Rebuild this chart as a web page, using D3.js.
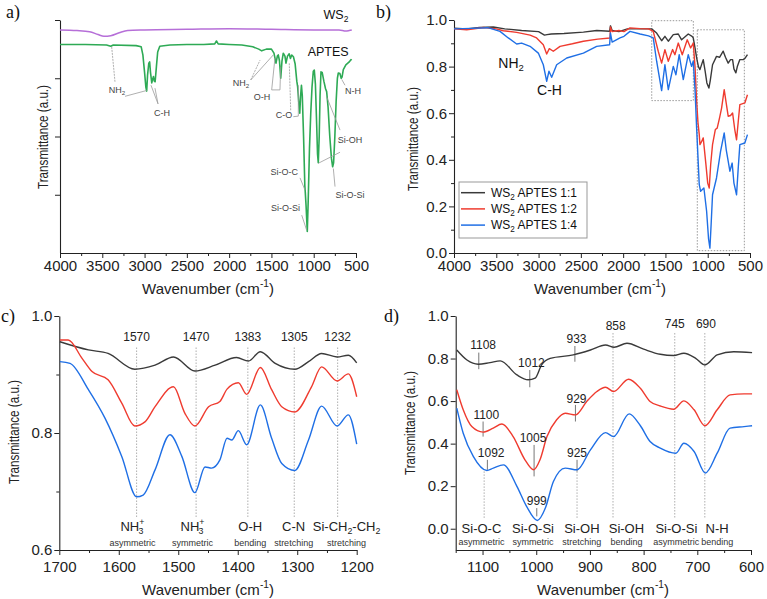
<!DOCTYPE html>
<html><head><meta charset="utf-8">
<script src="https://cdn.jsdelivr.net/npm/d3@7"></script>
<style>body{margin:0;background:#fff}text{font-family:"Liberation Sans",Arial,sans-serif}</style>
</head><body>
<script>
// ---------------- DATA ----------------
// Panel a (arbitrary transmittance units, 0..4)
const aWn_WS2  = [4000,3800,3650,3550,3480,3400,3300,3200,3000,2500,2000,1500,1000,700,620,580,550];
const aVal_WS2 = [3.83,3.82,3.80,3.75,3.72,3.73,3.78,3.82,3.83,3.84,3.85,3.84,3.83,3.83,3.81,3.82,3.83];
const aWn_APTES = [4000,3700,3450,3400,3370,3100,3040,3020,3000,2985,2975,2965,2950,2940,2930,2915,2905,2895,2885,2875,2860,2845,2820,2700,2500,2300,2170,2150,2130,2000,1850,1720,1650,1615,1560,1500,1470,1446,1430,1419,1405,1390,1375,1360,1340,1328,1310,1290,1275,1260,1240,1220,1200,1190,1175,1165,1155,1145,1135,1120,1105,1100,1090,1076,1065,1050,1035,1020,1005,993,980,965,955,946,935,925,914,900,880,860,847,830,810,790,776,765,750,735,720,709,690,675,665,650,620,580,560,550];
const aVal_APTES = [3.58,3.58,3.57,3.55,3.57,3.56,3.54,3.40,3.10,2.85,2.78,3.05,3.26,3.28,3.10,2.92,2.98,3.03,2.95,2.94,3.20,3.45,3.55,3.57,3.58,3.58,3.59,3.64,3.59,3.58,3.57,3.54,3.50,3.47,3.50,3.50,3.43,3.26,3.38,3.40,3.30,3.00,3.30,3.43,3.38,3.26,3.38,3.42,3.34,3.40,3.37,3.25,2.95,2.85,2.55,2.40,2.70,2.88,2.70,2.00,1.15,1.05,0.80,0.37,0.90,1.80,2.40,2.85,3.12,3.14,2.90,2.20,1.70,1.55,2.00,2.70,3.11,3.10,2.95,2.82,2.77,2.50,2.00,1.62,1.48,1.55,2.00,2.60,3.00,3.09,3.08,3.00,3.02,3.15,3.23,3.28,3.32,3.31];

// Panel b
const bWn_11 = [4000,3850,3700,3535,3400,3200,3000,2930,2900,2850,2700,2470,2312,2160,2150,2130,2050,1950,1800,1700,1663,1604,1545,1506,1466,1407,1348,1309,1230,1185,1171,1150,1131,1110,1092,1053,1030,1010,986,970,943,896,860,817,790,758,730,706,690,667,650,620,580,560,530];
const bVal_11 = [0.965,0.962,0.968,0.970,0.962,0.955,0.950,0.935,0.937,0.940,0.942,0.948,0.955,0.952,0.975,0.955,0.950,0.962,0.962,0.962,0.962,0.944,0.911,0.930,0.909,0.937,0.940,0.915,0.940,0.930,0.923,0.880,0.837,0.800,0.787,0.830,0.780,0.730,0.708,0.740,0.808,0.844,0.840,0.866,0.840,0.815,0.830,0.830,0.790,0.773,0.800,0.830,0.830,0.835,0.851];
const bWn_12 = [4000,3850,3650,3500,3417,3259,3100,3023,2944,2904,2873,2826,2746,2600,2470,2300,2155,2150,2130,2050,1990,1919,1800,1700,1644,1585,1545,1506,1466,1415,1388,1348,1301,1242,1202,1171,1150,1131,1115,1100,1092,1070,1053,1021,1000,982,965,943,910,888,860,836,805,780,758,730,706,680,659,640,620,561,530];
const bVal_12 = [0.962,0.958,0.968,0.962,0.954,0.947,0.935,0.923,0.894,0.854,0.877,0.866,0.887,0.898,0.909,0.918,0.923,0.970,0.950,0.955,0.950,0.966,0.963,0.962,0.951,0.866,0.815,0.873,0.823,0.873,0.851,0.901,0.851,0.915,0.880,0.901,0.800,0.651,0.560,0.508,0.465,0.480,0.494,0.379,0.300,0.279,0.380,0.465,0.530,0.536,0.580,0.622,0.701,0.640,0.587,0.590,0.601,0.530,0.486,0.560,0.637,0.644,0.679];
const bWn_14 = [4000,3800,3600,3456,3358,3259,3200,3101,3003,2944,2904,2877,2845,2786,2667,2470,2313,2160,2150,2130,2037,1990,1919,1800,1700,1644,1604,1545,1506,1466,1407,1376,1337,1289,1230,1191,1171,1150,1131,1100,1084,1045,1013,990,974,960,943,896,848,805,780,758,738,711,690,659,640,620,561,530];
const bVal_14 = [0.962,0.964,0.967,0.951,0.923,0.897,0.901,0.887,0.858,0.808,0.737,0.780,0.754,0.808,0.837,0.858,0.887,0.894,0.944,0.905,0.923,0.930,0.951,0.940,0.932,0.923,0.823,0.697,0.808,0.701,0.801,0.765,0.851,0.744,0.851,0.801,0.823,0.700,0.536,0.293,0.265,0.279,0.179,0.060,0.021,0.120,0.250,0.322,0.436,0.515,0.440,0.394,0.351,0.386,0.300,0.250,0.360,0.465,0.472,0.508];
const bLegend = ["1:1","1:2","1:4"];

// Panel c
const cWn_11 = [1699,1651,1618,1573,1539,1508,1472,1438,1402,1382,1362,1337,1304,1281,1259,1233,1214,1200];
const cVal_11 = [0.956,0.942,0.936,0.909,0.916,0.930,0.906,0.916,0.929,0.923,0.939,0.919,0.909,0.922,0.936,0.930,0.933,0.920];
const cWn_12 = [1699,1685,1662,1645,1618,1595,1573,1556,1539,1508,1489,1472,1449,1430,1418,1399,1385,1362,1343,1326,1304,1276,1259,1233,1214,1200];
const cVal_12 = [0.959,0.959,0.928,0.905,0.891,0.851,0.812,0.819,0.845,0.879,0.834,0.812,0.845,0.854,0.875,0.886,0.866,0.912,0.874,0.845,0.836,0.879,0.913,0.889,0.901,0.862];
const cWn_14 = [1699,1682,1651,1623,1595,1570,1559,1539,1514,1494,1472,1455,1444,1430,1418,1410,1399,1385,1362,1343,1326,1304,1281,1259,1233,1214,1200];
const cVal_14 = [0.922,0.919,0.874,0.825,0.760,0.691,0.694,0.737,0.797,0.760,0.698,0.742,0.740,0.754,0.791,0.788,0.804,0.780,0.848,0.791,0.748,0.736,0.788,0.846,0.812,0.831,0.781];
const cPeaks = [1570,1470,1383,1305,1232];

// Panel d
const dWn_11 = [1148,1129,1108,1086,1067,1036,1015,1002,990,974,931,899,871,855,831,800,769,744,725,703,686,663,632,598];
const dVal_11 = [0.840,0.793,0.773,0.781,0.789,0.723,0.700,0.708,0.770,0.801,0.817,0.840,0.864,0.853,0.872,0.844,0.820,0.814,0.825,0.801,0.770,0.817,0.832,0.828];
const dWn_12 = [1148,1136,1120,1099,1080,1064,1043,1021,1005,993,980,962,946,927,906,887,871,856,828,806,788,769,744,725,706,686,663,639,613,598];
const dVal_12 = [0.653,0.559,0.480,0.454,0.473,0.492,0.433,0.324,0.277,0.324,0.433,0.512,0.543,0.535,0.598,0.645,0.665,0.645,0.703,0.660,0.598,0.577,0.562,0.601,0.559,0.484,0.559,0.629,0.634,0.634];
const dWn_14 = [1148,1136,1117,1092,1080,1061,1036,1018,998,983,968,946,924,899,871,856,827,806,788,769,740,725,706,685,663,639,613,598];
const dVal_14 = [0.567,0.449,0.339,0.274,0.285,0.300,0.199,0.105,0.039,0.097,0.222,0.285,0.277,0.371,0.452,0.433,0.540,0.484,0.410,0.379,0.355,0.402,0.363,0.262,0.355,0.473,0.480,0.484];

// ---------------- STYLE ----------------
const COL = {k:"#3a3a3a", r:"#ef3b2f", b:"#1f6fe5", g:"#2eaa55", p:"#b66fd8", grey:"#8a8a8a", axis:"#222"};
const W=767,H=599;
const svg = d3.select("body").append("svg").attr("width",W).attr("height",H);
svg.append("rect").attr("width",W).attr("height",H).attr("fill","#fff");

function zip(a,b){return a.map((v,i)=>[v,b[i]]);}

function rich(g,x,y,parts,size,anchor,fill,weight){
  const t=g.append("text").attr("x",x).attr("y",y).attr("font-size",size)
    .attr("text-anchor",anchor||"middle").attr("fill",fill||"#222");
  if(weight) t.attr("font-weight",weight);
  let cur=0;
  parts.forEach(p=>{
    if(typeof p==="string") p={t:p};
    const target = p.s==="sub"? 0.25*size : p.s==="sup"? -0.45*size : 0;
    const ts=t.append("tspan").text(p.t);
    if(target!==cur) ts.attr("dy",target-cur);
    if(p.dx) ts.attr("dx",p.dx);
    if(p.s) ts.attr("font-size",size*0.68);
    cur=target;
  });
  return t;
}

function xTitle(g,x,y){ rich(g,x,y,["Wavenumber (cm",{t:"-1",s:"sup"},{t:")"}],15,"middle","#222"); }
function yTitle(g,x,y){
  g.append("text").attr("transform",`translate(${x},${y}) rotate(-90)`)
   .attr("text-anchor","middle").attr("font-size",15).attr("fill","#222")
   .attr("textLength",104).attr("lengthAdjust","spacingAndGlyphs")
   .text("Transmittance (a.u.)");
}
function styleAxis(sel){
  sel.selectAll("path.domain").attr("stroke",COL.axis).attr("stroke-width",1.1);
  sel.selectAll(".tick line").attr("stroke",COL.axis).attr("stroke-width",1);
  sel.selectAll(".tick text").attr("font-size",15).attr("fill","#222").style("font-family",'"Liberation Sans",Arial,sans-serif');
}
function panelLabel(t,x,y){
  svg.append("text").attr("x",x).attr("y",y).attr("font-size",18)
    .style("font-family",'"Liberation Serif","Times New Roman",serif').attr("fill","#111").text(t);
}
function drawAxes(g,x,y,o){
  const yb=y.range()[0], xl=x.range()[0];
  if(o.xMinor) g.append("g").attr("transform",`translate(0,${yb})`)
    .call(d3.axisBottom(x).tickValues(o.xMinor).tickSize(3).tickFormat("").tickSizeOuter(0))
    .call(s=>{s.select("path.domain").remove();s.selectAll("line").attr("stroke",COL.axis);});
  if(o.yMinor) g.append("g").attr("transform",`translate(${xl},0)`)
    .call(d3.axisLeft(y).tickValues(o.yMinor).tickSize(3).tickFormat("").tickSizeOuter(0))
    .call(s=>{s.select("path.domain").remove();s.selectAll("line").attr("stroke",COL.axis);});
  g.append("g").attr("transform",`translate(0,${yb})`)
    .call(d3.axisBottom(x).tickValues(o.xTicks).tickSize(5).tickPadding(o.xPad).tickSizeOuter(0).tickFormat(d3.format("d")))
    .call(styleAxis);
  const ya=d3.axisLeft(y).tickValues(o.yTicks).tickSize(5).tickPadding(2).tickSizeOuter(0);
  ya.tickFormat(o.yFmt||"");
  g.append("g").attr("transform",`translate(${xl},0)`).call(ya).call(styleAxis);
}
function curve(g,x,y,wn,val,color,w,c){
  g.append("path").datum(zip(wn,val)).attr("fill","none").attr("stroke",color)
   .attr("stroke-width",w||1.5).attr("stroke-linejoin","round")
   .attr("d",d3.line().x(d=>x(d[0])).y(d=>y(d[1])).curve(c||d3.curveMonotoneX));
}
function seg(g,x,y,x1,y1,x2,y2,color,dash,w){
  const l=g.append("line").attr("x1",x(x1)).attr("y1",y(y1)).attr("x2",x(x2)).attr("y2",y(y2))
   .attr("stroke",color||COL.grey).attr("stroke-width",w||0.8);
  if(dash) l.attr("stroke-dasharray",dash);
}

// ---------------- PANEL A ----------------
{
  const g=svg.append("g");
  const x=d3.scaleLinear().domain([4000,500]).range([60,356]);
  const y=d3.scaleLinear().domain([0,4]).range([253,20]);
  drawAxes(g,x,y,{xTicks:d3.range(4000,499,-500),xMinor:d3.range(3750,600,-500),yTicks:[1,2,3,4],xPad:2});
  curve(g,x,y,aWn_WS2,aVal_WS2,COL.p,1.5);
  curve(g,x,y,aWn_APTES,aVal_APTES,COL.g,1.6,d3.curveLinear);
  const lc="#9a9a9a";
  const leaders=[[3350,2.94,3389,3.54,"2,1"],[3231,2.69,2975,2.79],[2841,2.56,2924,2.88],[2841,2.56,2877,2.83],
    [1745,2.97,1635,3.31,"2,1"],[1745,2.97,1478,3.40],[1497,2.80,1458,3.35],[1497,2.80,1399,2.80],[1399,2.80,1391,3.20],
    [1241,2.34,1182,2.35],[1182,2.35,1182,2.88],[1272,2.45,1289,3.26,"2,1"],
    [1162,1.29,1103,1.08],[1142,0.65,1083,0.39],[689,2.11,847,2.68],[689,1.73,946,1.54],[748,1.14,768,1.45],[630,2.88,669,2.98]];
  leaders.forEach(l=>seg(g,x,y,l[0],l[1],l[2],l[3],lc,l[4],0.8));
  const fs=9, tc="#444";
  rich(g,x(3326),y(2.75),["NH",{t:"2",s:"sub"}],fs,"middle",tc);
  rich(g,x(2794),y(2.35),["C-H"],fs,"middle",tc);
  rich(g,x(1860),y(2.87),["NH",{t:"2",s:"sub"}],fs,"middle",tc);
  rich(g,x(1612),y(2.63),["O-H"],fs,"middle",tc);
  rich(g,x(1351),y(2.32),["C-O"],fs,"middle",tc);
  rich(g,x(1186),y(1.34),["Si-O-C"],fs,"end",tc);
  rich(g,x(1162),y(0.72),["Si-O-Si"],fs,"end",tc);
  rich(g,x(571),y(1.89),["Si-OH"],fs,"middle",tc);
  rich(g,x(571),y(0.94),["Si-O-Si"],fs,"middle",tc);
  rich(g,x(535),y(2.73),["N-H"],fs,"middle",tc);
  rich(g,x(829),y(3.38),["APTES"],12.5,"middle","#111");
  rich(g,x(737),y(4.02),["WS",{t:"2",s:"sub"}],12.5,"middle","#111");
  xTitle(g,208,294);
  yTitle(g,48,137);
  panelLabel("a)",6,18);
}

// ---------------- PANEL B ----------------
{
  const g=svg.append("g");
  const x=d3.scaleLinear().domain([4000,500]).range([454,750]);
  const y=d3.scaleLinear().domain([0,1]).range([253,20]);
  drawAxes(g,x,y,{xTicks:d3.range(4000,499,-500),xMinor:d3.range(3750,600,-500),
    yTicks:d3.range(0,1.01,0.2),yMinor:d3.range(0.1,1,0.2),yFmt:d3.format(".1f"),xPad:2.5});
  const bx=(w1,w2,v1,v2)=>g.append("rect").attr("x",x(w1)).attr("y",y(v1)).attr("width",x(w2)-x(w1)).attr("height",y(v2)-y(v1))
    .attr("fill","none").attr("stroke","#999").attr("stroke-width",1).attr("stroke-dasharray","1.5,1.5");
  bx(1662,1170,0.997,0.654);
  bx(1123,567,0.958,0.010);
  curve(g,x,y,bWn_11,bVal_11,COL.k,1.4,d3.curveLinear);
  curve(g,x,y,bWn_12,bVal_12,COL.r,1.4,d3.curveLinear);
  curve(g,x,y,bWn_14,bVal_14,COL.b,1.4,d3.curveLinear);
  rich(g,x(3325),y(0.794),["NH",{t:"2",s:"sub"}],14,"middle","#111");
  rich(g,x(2871),y(0.678),["C-H"],14,"middle","#111");
  const lg=g.append("g");
  lg.append("rect").attr("x",459).attr("y",182).attr("width",128).attr("height",56).attr("fill","#fff").attr("stroke","#999").attr("stroke-width",1);
  const cols=[COL.k,COL.r,COL.b];
  bLegend.forEach((s,i)=>{
    const yy=192.7+i*16.2;
    lg.append("line").attr("x1",461).attr("x2",485).attr("y1",yy).attr("y2",yy).attr("stroke",cols[i]).attr("stroke-width",1.5);
    rich(lg,491,yy+4.3,["WS",{t:"2",s:"sub"},{t:" APTES "+s}],12,"start","#111");
  });
  xTitle(g,600,294);
  yTitle(g,418,139);
  panelLabel("b)",376,18);
}

// ---------------- PANEL C ----------------
{
  svg.append("clipPath").attr("id","clipC").append("rect").attr("x",0).attr("y",295).attr("width",383).attr("height",304);
  const g=svg.append("g").attr("clip-path","url(#clipC)");
  const x=d3.scaleLinear().domain([1700,1200]).range([59.3,356.7]);
  const y=d3.scaleLinear().domain([0.6,1.0]).range([550,316]);
  drawAxes(g,x,y,{xTicks:d3.range(1700,1199,-100),xMinor:d3.range(1650,1200,-100),
    yTicks:[0.6,0.8,1.0],yMinor:[0.7,0.9],yFmt:d3.format(".1f"),xPad:6});
  cPeaks.forEach(p=>{
    seg(g,x,y,p,0.946,p,0.654,"#999","1.2,1.8",1);
    rich(g,x(p),y(0.957),[String(p)],12,"middle","#222");
  });
  curve(g,x,y,cWn_11,cVal_11,COL.k,1.4);
  curve(g,x,y,cWn_12,cVal_12,COL.r,1.4);
  curve(g,x,y,cWn_14,cVal_14,COL.b,1.4);
  const mainY=y(0.6325), subY=y(0.6075);
  const NH3=["NH",{t:"+",s:"sup"},{t:"3",s:"sub",dx:-6}];
  [[1577,NH3,"asymmetric"],[1476,NH3,"symmetric"],[1379,["O-H"],"bending"],[1306,["C-N"],"stretching"],
   [1217,["Si-CH",{t:"2",s:"sub"},{t:"-CH"},{t:"2",s:"sub"}],"stretching"]].forEach(L=>{
    rich(g,x(L[0]),mainY,L[1],13,"middle","#222");
    rich(g,x(L[0]),subY,[L[2]],9,"middle","#333");
  });
  xTitle(g,208,595);
  yTitle(g,19,432);
  panelLabel("c)",1,322);
}

// ---------------- PANEL D ----------------
{
  const g=svg.append("g");
  const x=d3.scaleLinear().domain([1150,600]).range([455.7,751]);
  const y=d3.scaleLinear().domain([-0.1,1.0]).range([550,316]);
  drawAxes(g,x,y,{xTicks:d3.range(1100,599,-100),xMinor:d3.range(1150,640,-100),
    yTicks:d3.range(0,1.01,0.2),yFmt:d3.format(".1f"),xPad:6});
  [[857,0.919,0.046],[742,0.919,0.046],[686,0.919,0.046],[1097,0.269,0.046],[924,0.269,0.046]]
    .forEach(l=>seg(g,x,y,l[0],l[1],l[0],l[2],"#999","1.2,1.8",1));
  [[1107,0.828,0.750],[1012,0.746,0.665],[928,0.859,0.785],[1099,0.504,0.433],[1004,0.394,0.246],
   [927,0.582,0.504],[1091,0.324,0.277],[999,0.097,0.058],[924,0.324,0.269]]
    .forEach(l=>seg(g,x,y,l[0],l[1],l[0],l[2],"#777",null,1));
  curve(g,x,y,dWn_11,dVal_11,COL.k,1.4);
  curve(g,x,y,dWn_12,dVal_12,COL.r,1.4);
  curve(g,x,y,dWn_14,dVal_14,COL.b,1.4);
  [["1108",1099,0.844],["1012",1009,0.762],["933",925,0.872],["858",852,0.934],["745",742,0.942],["690",684,0.942],
   ["1100",1093,0.515],["1005",1006,0.410],["929",925,0.593],["1092",1084,0.339],["999",999,0.113],["925",924,0.335]]
    .forEach(L=>rich(g,x(L[1]),y(L[2]),[L[0]],12,"middle","#222"));
  const mainY=y(-0.019), subY=y(-0.078);
  [[1102,"Si-O-C","asymmetric"],[1006,"Si-O-Si","symmetric"],[915,"Si-OH","stretching"],[832,"Si-OH","bending"],
   [739,"Si-O-Si","asymmetric"],[663,"N-H","bending"]].forEach(L=>{
    rich(g,x(L[0]),mainY,[L[1]],13,"middle","#222");
    rich(g,x(L[0]),subY,[L[2]],9,"middle","#333");
  });
  xTitle(g,603,595);
  yTitle(g,415,423);
  panelLabel("d)",384,322);
}
</script>
</body></html>
